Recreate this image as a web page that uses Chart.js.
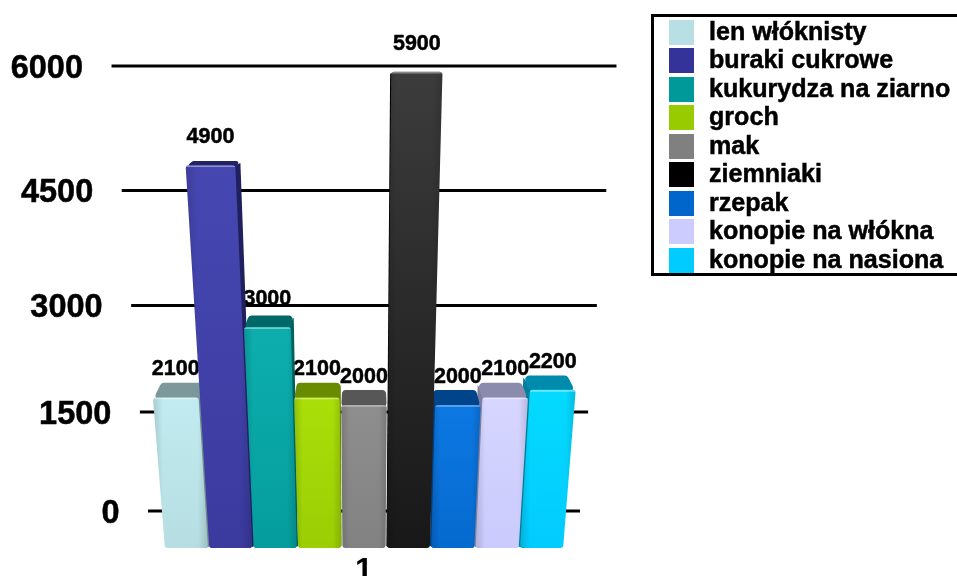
<!DOCTYPE html>
<html>
<head>
<meta charset="utf-8">
<style>
  html, body { margin: 0; padding: 0; background: #fff; overflow: hidden; }
  canvas { display: block; }
</style>
<script src="https://cdn.jsdelivr.net/npm/chart.js@4/dist/chart.umd.js"></script>
</head>
<body>
<canvas id="cropChart" width="957" height="576"></canvas>
<script>
const categories = ['1'];
const cropNames = ['len włóknisty', 'buraki cukrowe', 'kukurydza na ziarno', 'groch', 'mak',
  'ziemniaki', 'rzepak', 'konopie na włókna', 'konopie na nasiona'];
const cropValues = [2100, 4900, 3000, 2100, 2000, 5900, 2000, 2100, 2200];
const cropColors = ['#B8E0E4', '#333399', '#009999', '#99CC00', '#808080',
  '#000000', '#0066CC', '#CCCCFF', '#00CCFF'];
const axisMax = 6000;
const axisStep = 1500;

const FONT = '"Liberation Sans", Arial, sans-serif';

// Linear scale bent so the upper values spread out, like a floor seen from above
class PerspectiveScale extends Chart.LinearScale {
  getPixelForValue(value) {
    const t = (value - this.min) / (this.max - this.min);
    const o = this.options;
    return this.bottom - o.lift - o.span * t / (1 + o.bend * (1 - t));
  }
}
PerspectiveScale.id = 'perspective';
PerspectiveScale.defaults = {};
Chart.register(PerspectiveScale);

function rgb(hex) {
  return [1, 3, 5].map(i => parseInt(hex.substr(i, 2), 16));
}
function css(c) {
  return 'rgb(' + c.map(v => Math.min(255, Math.round(v))).join(',') + ')';
}
function scaled(hex, f) {
  return css(rgb(hex).map(v => v * f));
}
// dark colours get lifted more, otherwise the black bar has no sheen at all
function lit(hex, f, lift) {
  const c = rgb(hex);
  const lum = (c[0] + c[1] + c[2]) / 765;
  const add = lift * Math.pow(1 - lum, 3);
  return css(c.map(v => v * f + add));
}

function roundedPath(ctx, pts, r) {
  const n = pts.length;
  ctx.beginPath();
  ctx.moveTo((pts[n - 1][0] + pts[0][0]) / 2, (pts[n - 1][1] + pts[0][1]) / 2);
  for (let i = 0; i < n; i++) {
    const next = pts[(i + 1) % n];
    ctx.arcTo(pts[i][0], pts[i][1], next[0], next[1], r);
  }
  ctx.closePath();
}

function plainPath(ctx, pts) {
  ctx.beginPath();
  pts.forEach((p, i) => (i ? ctx.lineTo(p[0], p[1]) : ctx.moveTo(p[0], p[1])));
  ctx.closePath();
}

// bold text with a hair of outline, the plain face reads too thin at this size
function heavyText(ctx, text, x, y) {
  ctx.strokeStyle = '#000';
  ctx.lineWidth = 0.5;
  ctx.strokeText(text, x, y);
  ctx.fillText(text, x, y);
}

const perspective = {
  id: 'perspective3d',

  beforeDatasetDraw() {
    return false; // bars are painted together in afterDatasetsDraw
  },

  beforeDatasetsDraw(chart) {
    const ctx = chart.ctx;
    const back = chart.scales.yBack;
    const cx = (chart.chartArea.left + chart.chartArea.right) / 2;
    ctx.save();
    ctx.fillStyle = '#000';
    ctx.font = 'bold 32.5px ' + FONT;
    ctx.textAlign = 'right';
    ctx.textBaseline = 'middle';
    back.ticks.forEach(tick => {
      const y = back.getPixelForValue(tick.value);
      const half = 216 + (511 - y) * 0.082;
      ctx.strokeStyle = '#000';
      ctx.lineWidth = 3;
      ctx.beginPath();
      ctx.moveTo(cx - half, y);
      ctx.lineTo(cx + half, y);
      ctx.stroke();
      heavyText(ctx, String(tick.value), cx - half - 28.5, y + 3);
    });
    ctx.restore();
  },

  afterDatasetsDraw(chart) {
    const ctx = chart.ctx;
    const base = chart.scales.y.getPixelForValue(0);
    const cx = (chart.chartArea.left + chart.chartArea.right) / 2;
    const eyeY = 72;
    const project = (x, y) => cx + (x - cx) * (1 + (base - y) * 0.0004);

    const bars = chart.data.datasets.map((ds, i) => ({ ds, bar: chart.getDatasetMeta(i).data[0] }));

    // value labels sit under the bars so a taller neighbour can clip them
    ctx.save();
    ctx.fillStyle = '#000';
    ctx.font = 'bold 21.5px ' + FONT;
    ctx.textAlign = 'center';
    ctx.textBaseline = 'middle';
    bars.forEach(({ ds, bar }) => {
      heavyText(ctx, String(ds.data[0]), project(bar.x, bar.y), bar.y - 28);
    });
    ctx.restore();

    // outer bars first, the ones closest to the middle end up on top
    bars.sort((a, b) => Math.abs(b.bar.x - cx) - Math.abs(a.bar.x - cx));
    bars.forEach(({ ds, bar }) => {
      const color = ds.backgroundColor;
      const left = bar.x - bar.width / 2;
      const right = bar.x + bar.width / 2;
      const topY = bar.y;
      const backY = topY + (eyeY - topY) * 0.045;
      const depth = topY - backY;
      const xl = project(left, topY);
      const xr = project(right, topY);
      const blx = project(left, base);
      const brx = project(right, base);
      const toBack = x => cx + (x - cx) * 0.96;
      const toBackLow = x => cx + (x - cx) * 0.98;

      ctx.save();
      // side wall facing the middle of the chart
      ctx.fillStyle = scaled(color, 0.62);
      if (bar.x > cx) {
        plainPath(ctx, [[xl + 3, topY + 1], [toBack(xl), backY + 2], [toBackLow(blx), base - 2], [blx + 3, base]]);
      } else {
        plainPath(ctx, [[xr - 3, topY + 1], [toBack(xr), backY + 2], [toBackLow(brx), base - 2], [brx - 3, base]]);
      }
      ctx.fill();

      // top face
      if (depth > 0.5) {
        ctx.fillStyle = scaled(color, 0.68);
        roundedPath(ctx, [[xl, topY + 2], [toBack(xl), backY], [toBack(xr), backY], [xr, topY + 2]],
          Math.min(4, depth / 2.2));
        ctx.fill();
      }

      // front face
      const grad = ctx.createLinearGradient(0, topY, 0, base);
      grad.addColorStop(0, lit(color, 1.05, 60));
      grad.addColorStop(1, lit(color, 0.99, 24));
      const front = [[xl, topY], [xr, topY], [brx, base], [blx, base]];
      roundedPath(ctx, front, 3);
      ctx.fillStyle = grad;
      ctx.fill();

      // soft darkening toward the vertical edges
      ctx.clip();
      const sheen = ctx.createLinearGradient(Math.min(xl, blx), 0, Math.max(xr, brx), 0);
      sheen.addColorStop(0, 'rgba(0,0,0,0.14)');
      sheen.addColorStop(0.18, 'rgba(0,0,0,0)');
      sheen.addColorStop(0.82, 'rgba(0,0,0,0)');
      sheen.addColorStop(1, 'rgba(0,0,0,0.14)');
      ctx.fillStyle = sheen;
      ctx.fillRect(0, topY, chart.width, base - topY);

      // highlight on the front top edge
      ctx.strokeStyle = 'rgba(255,255,255,0.4)';
      ctx.lineWidth = 1.6;
      ctx.beginPath();
      ctx.moveTo(xl, topY + 1);
      ctx.lineTo(xr, topY + 1);
      ctx.stroke();
      ctx.restore();
    });
  },

  afterDraw(chart) {
    const ctx = chart.ctx;
    ctx.save();
    ctx.strokeStyle = '#000';
    ctx.lineWidth = 3;
    ctx.strokeRect(652.5, 15.5, 310, 259);

    ctx.font = 'bold 25.1px ' + FONT;
    ctx.textAlign = 'left';
    ctx.textBaseline = 'middle';
    chart.data.datasets.forEach((ds, i) => {
      const rowY = 32 + i * 28.5;
      ctx.fillStyle = ds.backgroundColor;
      ctx.fillRect(669, Math.round(rowY - 12.5), 25, 25);
      ctx.fillStyle = '#000';
      heavyText(ctx, ds.label, 709, rowY + 1);
    });
    ctx.restore();
  }
};

new Chart('cropChart', {
  type: 'bar',
  data: {
    labels: categories,
    datasets: cropNames.map((name, i) => ({
      label: name,
      data: [cropValues[i]],
      backgroundColor: cropColors[i],
      yAxisID: 'y'
    }))
  },
  options: {
    responsive: false,
    animation: false,
    categoryPercentage: 0.908,
    barPercentage: 0.97,
    layout: { padding: { left: 144, right: 373, top: 0, bottom: -10 } },
    plugins: {
      legend: { display: false },
      tooltip: { enabled: false }
    },
    scales: {
      x: {
        grid: { display: false },
        border: { display: false },
        ticks: {
          color: '#000',
          padding: 1,
          font: { family: FONT, size: 32, weight: 'bold', lineHeight: 0.875 }
        }
      },
      // front plane of the bars
      y: {
        type: 'perspective',
        display: false,
        min: 0,
        max: axisMax,
        ticks: { stepSize: axisStep },
        span: 486,
        lift: 0,
        bend: 0.2
      },
      // back wall carrying the gridlines
      yBack: {
        type: 'perspective',
        display: false,
        min: 0,
        max: axisMax,
        ticks: { stepSize: axisStep },
        span: 445,
        lift: 37,
        bend: 0.165
      }
    }
  },
  plugins: [perspective]
});
</script>
</body>
</html>
